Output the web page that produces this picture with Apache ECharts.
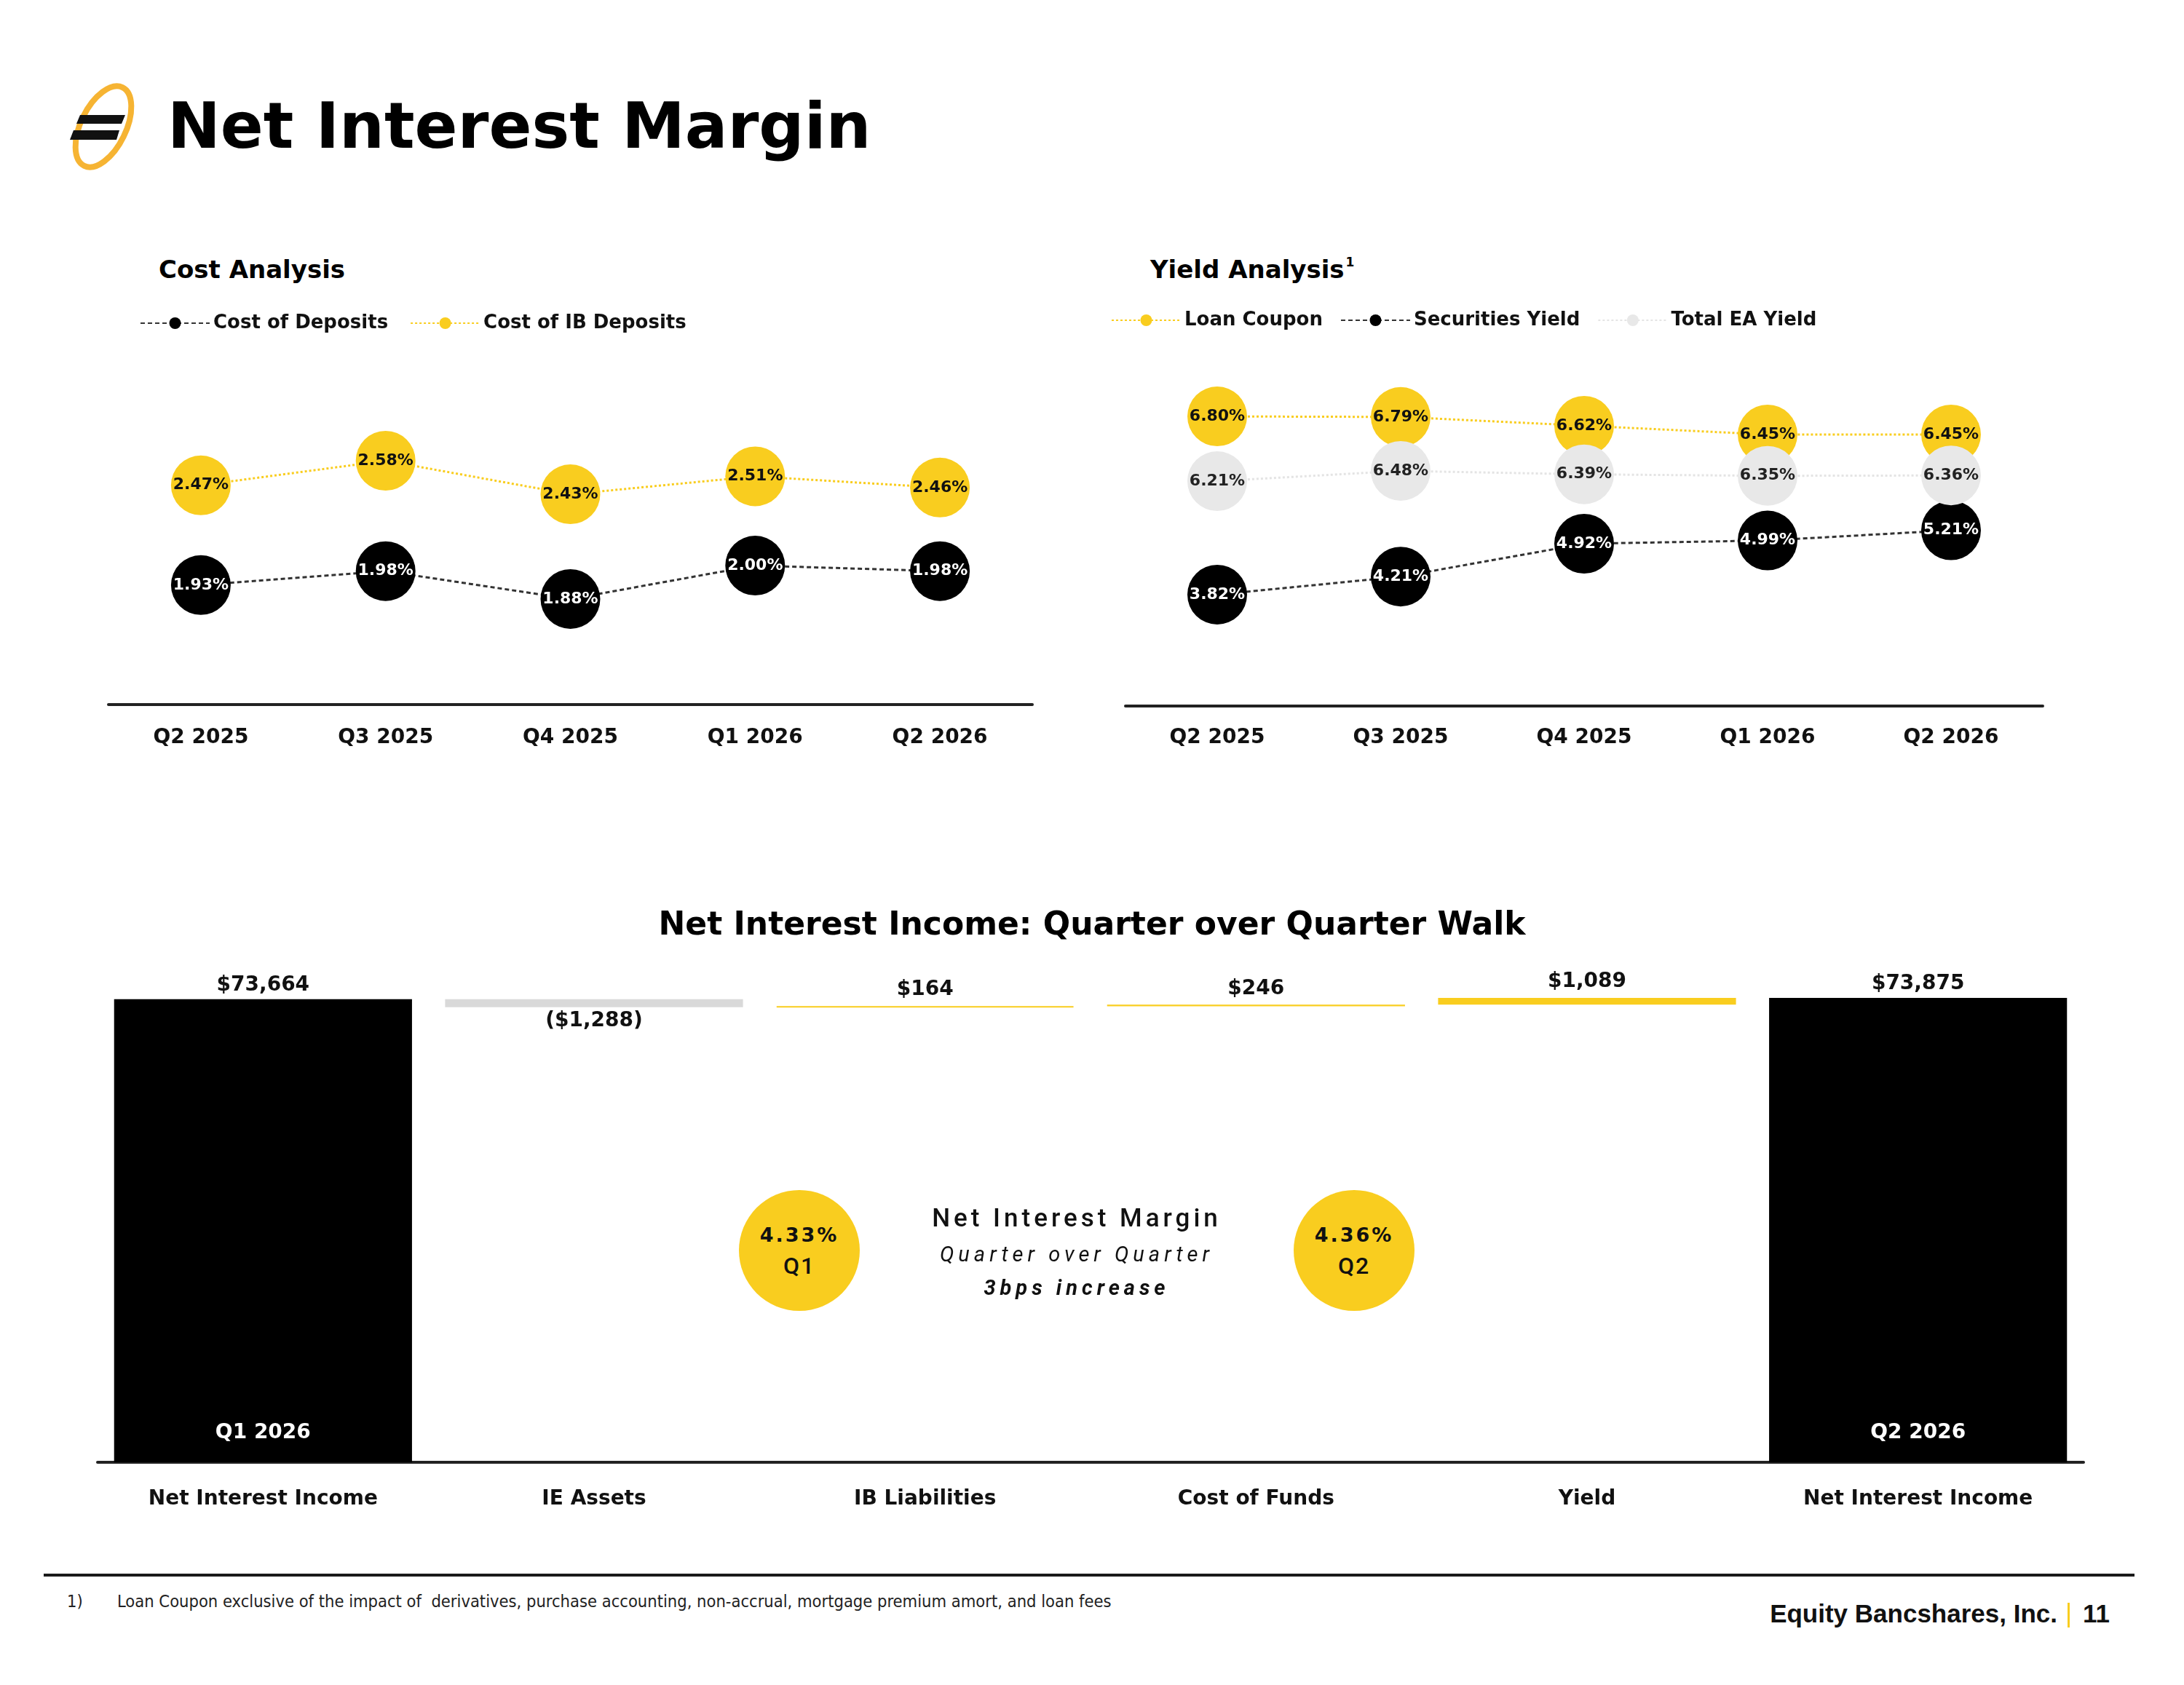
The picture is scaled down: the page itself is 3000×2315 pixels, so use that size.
<!DOCTYPE html>
<html>
<head>
<meta charset="utf-8">
<title>Net Interest Margin</title>
<script src="https://cdn.jsdelivr.net/npm/echarts@6/dist/echarts.min.js"></script>
<style>
  body {
    margin: 0;
    width: 3000px;
    height: 2315px;
    background: #ffffff;
    position: relative;
    overflow: hidden;
    font-family: 'DejaVu Sans', sans-serif;
    color: #000;
  }
  .abs { position: absolute; }
  .page-title {
    left: 230px; top: 130px;
    font-size: 87px; line-height: 86px; font-weight: bold;
  }
  .section-title {
    top: 353px;
    font-size: 34px; line-height: 34px; font-weight: bold;
  }
  .section-title sup { font-size: 17px; line-height: 0; position: relative; top: -16px; vertical-align: baseline; margin-left: 2px; }
  .nim-circle {
    width: 166px; height: 166px; border-radius: 50%;
    background: #F9CD1F;
    display: flex; flex-direction: column; align-items: center; justify-content: center;
    font-size: 27px; line-height: 43px; color: #111;
  }
  .nim-circle b { letter-spacing: 3px; }
  .nim-circle span { letter-spacing: 2px; font-family: Roboto, sans-serif; font-weight: 500; font-size: 32px; }
  .nim-note { left: 1129px; top: 1649px; width: 700px; text-align: center; font-family: Roboto, sans-serif; color: #111; }
  .nim-note .l1 { font-size: 35px; line-height: 50px; font-weight: 500; letter-spacing: 5px; }
  .nim-note .l2 { font-size: 29px; line-height: 48px; font-style: italic; letter-spacing: 6px; }
  .nim-note .l3 { font-size: 29px; line-height: 44px; font-style: italic; font-weight: bold; letter-spacing: 6px; }
  .footer-rule { left: 60px; top: 2162px; width: 2872px; height: 4px; background: #1a1a1a; }
  .footnote { top: 2186px; font-family: 'Liberation Sans Narrow', 'DejaVu Sans Condensed', sans-serif; font-size: 23.5px; line-height: 28px; color: #222; }
  .brand { top: 2197px; font-family: 'Liberation Sans', sans-serif; font-weight: bold; font-size: 35px; line-height: 40px; color: #111; }
</style>
</head>
<body>

<svg class="abs" style="left:0;top:0" width="300" height="300" viewBox="0 0 300 300">
  <ellipse cx="142" cy="174" rx="31" ry="60" transform="rotate(26 142 174)" fill="none" stroke="#F6B433" stroke-width="8"/>
  <polygon points="110,158 172,158 167,170 105,170" fill="#111"/>
  <polygon points="101,179 164,179 160,192 96,192" fill="#111"/>
</svg>
<div class="abs page-title">Net Interest Margin</div>

<div class="abs section-title" style="left:218px">Cost Analysis</div>
<div class="abs section-title" style="left:1580px">Yield Analysis<sup>1</sup></div>

<div id="costChart" class="abs" style="left:140px;top:400px;width:1320px;height:680px"></div>
<div id="yieldChart" class="abs" style="left:1480px;top:400px;width:1400px;height:680px"></div>
<div id="walkChart" class="abs" style="left:100px;top:1220px;width:2800px;height:900px"></div>

<div id="nimCircles"></div>
<div class="abs nim-note">
  <div class="l1">Net Interest Margin</div>
  <div class="l2">Quarter over Quarter</div>
  <div class="l3" id="nimChange"></div>
</div>

<div class="abs footer-rule"></div>
<div class="abs footnote" style="left:92px">1)</div>
<div class="abs footnote" style="left:161px">Loan Coupon exclusive of the impact of&nbsp; derivatives, purchase accounting, non-accrual, mortgage premium amort, and loan fees</div>
<div class="abs brand" style="right:174px">Equity Bancshares, Inc.</div>
<div class="abs" style="left:2840px;top:2202px;width:3px;height:34px;background:#F9CD1F"></div>
<div class="abs brand" style="left:2861px">11</div>

<script>
  // ---- data ----
  const quarters = ['Q2 2025', 'Q3 2025', 'Q4 2025', 'Q1 2026', 'Q2 2026'];
  const costOfDeposits = [1.93, 1.98, 1.88, 2.00, 1.98];
  const costOfIBDeposits = [2.47, 2.58, 2.43, 2.51, 2.46];
  const loanCoupon = [6.80, 6.79, 6.62, 6.45, 6.45];
  const securitiesYield = [3.82, 4.21, 4.92, 4.99, 5.21];
  const totalEAYield = [6.21, 6.48, 6.39, 6.35, 6.36];

  const walkCategories = ['Net Interest Income', 'IE Assets', 'IB Liabilities', 'Cost of Funds', 'Yield', 'Net Interest Income'];
  const walkPeriods = ['Q1 2026', 'Q2 2026'];
  const niiStart = 73664;
  const niiEnd = 73875;
  const walkDeltas = [-1288, 164, 246, 1089];

  const nimRates = [4.33, 4.36];
  const nimQuarters = ['Q1', 'Q2'];

  const YELLOW = '#F9CD1F';
  const FONT = 'DejaVu Sans';

  const pct = p => p.value.toFixed(2) + '%';
  const money = v => '$' + Math.abs(v).toLocaleString('en-US');

  function circleSeries(name, data, yIdx, fill, textColor, lineColor, dash) {
    return {
      name: name, type: 'line', data: data, yAxisIndex: yIdx,
      symbol: 'circle', symbolSize: 82,
      itemStyle: {color: fill},
      lineStyle: {color: lineColor, width: 3, type: dash},
      label: {show: true, position: 'inside', formatter: pct, color: textColor,
        fontFamily: FONT, fontWeight: 'bold', fontSize: 22}
    };
  }

  function lineChartOption(legendLeft, legendTop, legendGap, labelMargin, grid, yRanges, series) {
    return {
      animation: false,
      legend: {
        left: legendLeft, top: legendTop, itemWidth: 95, itemHeight: 20, itemGap: legendGap,
        textStyle: {fontFamily: FONT, fontWeight: 'bold', fontSize: 26, color: '#111'}
      },
      grid: Object.assign({outerBoundsMode: 'none'}, grid),
      xAxis: {
        type: 'category', data: quarters,
        axisLine: {lineStyle: {color: '#222', width: 4}},
        axisTick: {show: false},
        axisLabel: {margin: labelMargin, fontFamily: FONT, fontWeight: 'bold', fontSize: 28, color: '#111'}
      },
      yAxis: yRanges.map(r => ({type: 'value', show: false, min: r[0], max: r[1], splitLine: {show: false}})),
      series: series
    };
  }

  // 成本分析
  const costChart = echarts.init(document.getElementById('costChart'));
  costChart.setOption(lineChartOption(47, 26, 30, 32, {left: 9, right: 42, top: 120, bottom: 112},
    [[1.5014, 2.671], [1.489, 2.948]],
    [
      circleSeries('Cost of Deposits', costOfDeposits, 0, '#000', '#fff', '#333', [6, 4]),
      circleSeries('Cost of IB Deposits', costOfIBDeposits, 1, YELLOW, '#111', YELLOW, [3, 3])
    ]));

  // 收益分析
  const yieldChart = echarts.init(document.getElementById('yieldChart'));
  yieldChart.setOption(lineChartOption(41, 22, 24, 30, {left: 66, right: 74, top: 120, bottom: 110},
    [[1.196, 7.534], [1.414, 8.489], [0.268, 8.922]],
    [
      circleSeries('Loan Coupon', loanCoupon, 0, YELLOW, '#111', YELLOW, [3, 3]),
      circleSeries('Securities Yield', securitiesYield, 1, '#000', '#fff', '#333', [6, 4]),
      circleSeries('Total EA Yield', totalEAYield, 2, '#E8E8E8', '#222', '#E4E4E4', [3, 3])
    ]));

  // waterfall
  const totals = walkCategories.map((c, i) => i === 0 ? niiStart : (i === walkCategories.length - 1 ? niiEnd : '-'));
  const bases = ['-'];
  const changes = ['-'];
  let running = niiStart;
  walkDeltas.forEach(d => {
    bases.push(Math.min(running, running + d));
    changes.push({
      value: Math.abs(d), delta: d,
      itemStyle: {color: d < 0 ? '#D9D9D9' : YELLOW, borderColor: d < 0 ? '#D9D9D9' : YELLOW, borderWidth: 2},
      label: {position: d < 0 ? 'bottom' : 'top', distance: d < 0 ? 5 : 8}
    });
    running += d;
  });
  bases.push('-');
  changes.push('-');

  const walkLabel = {fontFamily: FONT, fontWeight: 'bold', fontSize: 28, color: '#111'};
  const walkChart = echarts.init(document.getElementById('walkChart'));
  walkChart.setOption({
    animation: false,
    title: {
      text: 'Net Interest Income: Quarter over Quarter Walk', left: 'center', top: 31, padding: 0,
      textStyle: {fontFamily: FONT, fontWeight: 'bold', fontSize: 44, color: '#000'}
    },
    grid: {left: 34, right: 38, top: 98, bottom: 111, outerBoundsMode: 'none'},
    xAxis: {
      type: 'category', data: walkCategories,
      axisLine: {lineStyle: {color: '#222', width: 4}},
      axisTick: {show: false},
      axisLabel: Object.assign({margin: 37}, walkLabel)
    },
    yAxis: {type: 'value', show: false, min: 0, max: 80000, splitLine: {show: false}},
    series: [
      {
        name: 'total', type: 'bar', data: totals, barWidth: '90%', barGap: '-100%',
        itemStyle: {color: '#000'},
        label: Object.assign({show: true, position: 'top', distance: 5, formatter: p => money(p.value)}, walkLabel)
      },
      {
        name: 'period', type: 'bar', data: totals, barWidth: '90%', barGap: '-100%', z: 3,
        itemStyle: {color: 'rgba(0,0,0,0)'},
        label: Object.assign({}, walkLabel, {show: true, position: 'insideBottom', distance: 26, color: '#fff',
          formatter: p => p.dataIndex === 0 ? walkPeriods[0] : walkPeriods[1]})
      },
      {
        name: 'base', type: 'bar', stack: 'walk', data: bases, barWidth: '90%', barGap: '-100%',
        itemStyle: {color: 'rgba(0,0,0,0)'}
      },
      {
        name: 'change', type: 'bar', stack: 'walk', data: changes, barWidth: '90%', barGap: '-100%',
        label: Object.assign({show: true,
          formatter: p => p.data.delta < 0 ? '(' + money(p.data.delta) + ')' : money(p.data.delta)}, walkLabel)
      }
    ]
  });

  // NIM callouts
  const circleLeft = [1015, 1777];
  const holder = document.getElementById('nimCircles');
  nimRates.forEach((r, i) => {
    const el = document.createElement('div');
    el.className = 'abs nim-circle';
    el.style.left = circleLeft[i] + 'px';
    el.style.top = '1635px';
    el.innerHTML = '<b>' + r.toFixed(2) + '%</b><span>' + nimQuarters[i] + '</span>';
    holder.appendChild(el);
  });
  const bps = Math.round((nimRates[1] - nimRates[0]) * 100);
  document.getElementById('nimChange').textContent = bps + 'bps ' + (bps >= 0 ? 'increase' : 'decrease');
</script>
</body>
</html>
